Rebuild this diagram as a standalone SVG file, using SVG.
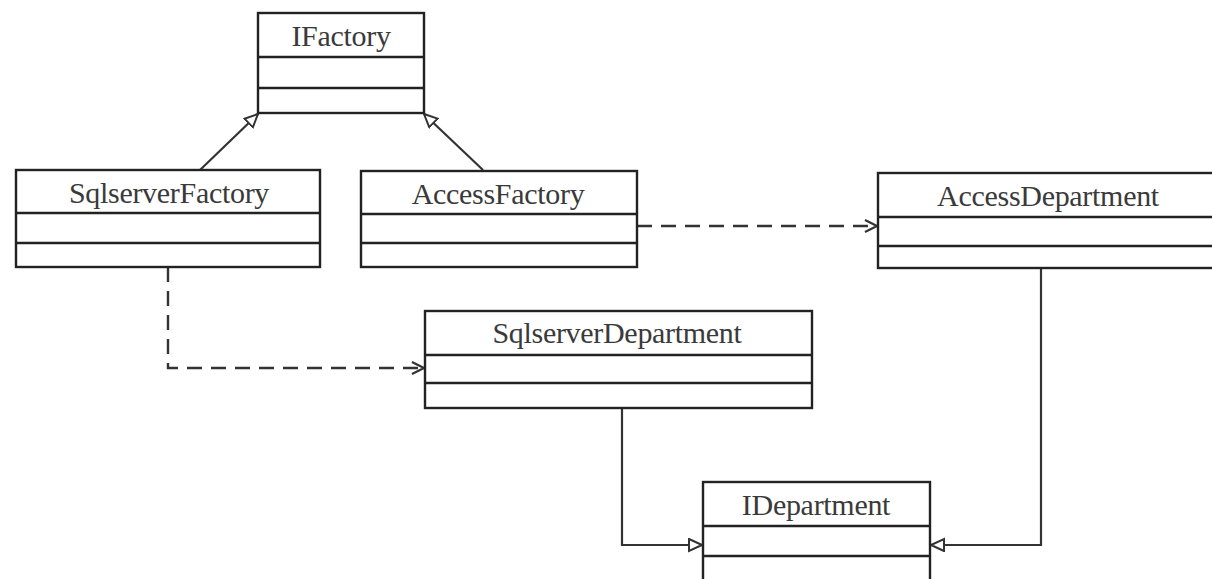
<svg xmlns="http://www.w3.org/2000/svg" width="1212" height="579" viewBox="0 0 1212 579">
<style>
.box{fill:#fff;stroke:#222;stroke-width:2.4}
.div{stroke:#222;stroke-width:2.4}
.t{font-family:"Liberation Serif",serif;font-size:30px;fill:#3a3a3a;text-anchor:middle;letter-spacing:-0.3px}
.c{fill:none;stroke:#333;stroke-width:2.2}
.d{fill:none;stroke:#333;stroke-width:2.4;stroke-dasharray:15,9}
</style>
<defs>
<marker id="tri" markerWidth="16" markerHeight="16" refX="14" refY="7" orient="auto" markerUnits="userSpaceOnUse">
<path d="M1,1 L14,7 L1,13 Z" fill="#fff" stroke="#333" stroke-width="2"/>
</marker>
<marker id="open" markerWidth="16" markerHeight="16" refX="13" refY="7" orient="auto" markerUnits="userSpaceOnUse">
<path d="M1,1 L13,7 L1,13" fill="none" stroke="#333" stroke-width="2.2"/>
</marker>
</defs>
<rect width="1212" height="579" fill="#fff"/>
<g id="connectors">
<line class="c" x1="200" y1="170" x2="258" y2="114" marker-end="url(#tri)"/>
<line class="c" x1="483" y1="170" x2="424" y2="114" marker-end="url(#tri)"/>
<line class="d" x1="637" y1="226" x2="877" y2="226" marker-end="url(#open)"/>
<polyline class="d" points="168,267 168,368 424,368" marker-end="url(#open)"/>
<polyline class="c" points="622,408 622,545 702,545" marker-end="url(#tri)"/>
<polyline class="c" points="1041,268 1041,545 931,545" marker-end="url(#tri)"/>
</g>
<g id="IFactory">
<rect class="box" x="258" y="13" width="166" height="100"/>
<line class="div" x1="258" y1="57" x2="424" y2="57"/>
<line class="div" x1="258" y1="88" x2="424" y2="88"/>
<text class="t" x="341" y="46">IFactory</text>
</g>
<g id="SqlserverFactory">
<rect class="box" x="16" y="170" width="304" height="97"/>
<line class="div" x1="16" y1="213" x2="320" y2="213"/>
<line class="div" x1="16" y1="243" x2="320" y2="243"/>
<text class="t" x="169" y="203">SqlserverFactory</text>
</g>
<g id="AccessFactory">
<rect class="box" x="361" y="171" width="276" height="96"/>
<line class="div" x1="361" y1="214" x2="637" y2="214"/>
<line class="div" x1="361" y1="243" x2="637" y2="243"/>
<text class="t" x="498" y="204">AccessFactory</text>
</g>
<g id="AccessDepartment">
<rect class="box" x="878" y="173" width="340" height="95"/>
<line class="div" x1="878" y1="217" x2="1212" y2="217"/>
<line class="div" x1="878" y1="246" x2="1212" y2="246"/>
<text class="t" x="1048" y="206">AccessDepartment</text>
</g>
<g id="SqlserverDepartment">
<rect class="box" x="425" y="311" width="387" height="97"/>
<line class="div" x1="425" y1="355" x2="812" y2="355"/>
<line class="div" x1="425" y1="383" x2="812" y2="383"/>
<text class="t" x="617" y="343">SqlserverDepartment</text>
</g>
<g id="IDepartment">
<rect class="box" x="703" y="482" width="227" height="110"/>
<line class="div" x1="703" y1="526" x2="930" y2="526"/>
<line class="div" x1="703" y1="556" x2="930" y2="556"/>
<text class="t" x="816" y="515">IDepartment</text>
</g>
</svg>
